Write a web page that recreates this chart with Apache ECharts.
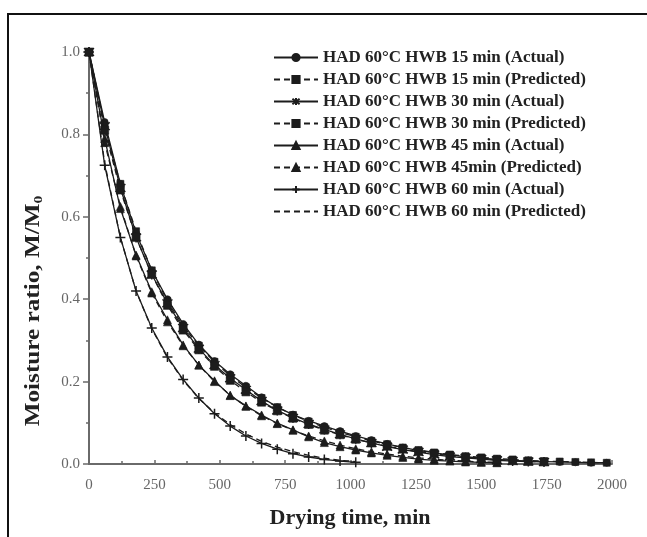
<!DOCTYPE html>
<html>
<head>
<meta charset="utf-8">
<script src="https://cdn.jsdelivr.net/npm/echarts@6/dist/echarts.min.js"></script>
<style>
  html, body { margin: 0; padding: 0; background: #fff; }
  #chart { width: 647px; height: 537px; }
</style>
</head>
<body>
<div id="chart"></div>
<script>
// Drying time samples (min)
const timeMin = [0, 60, 120, 180, 240, 300, 360, 420, 480, 540, 600, 660, 720, 780, 840, 900,
  960, 1020, 1080, 1140, 1200, 1260, 1320, 1380, 1440, 1500, 1560, 1620, 1680, 1740, 1800,
  1860, 1920, 1980];

// Moisture ratio M/M0, hot air drying at 60 °C after hot water blanching
const hwb15Actual = [1.00, 0.83, 0.68, 0.56, 0.47, 0.40, 0.34, 0.29, 0.25, 0.218, 0.190, 0.162,
  0.138, 0.120, 0.105, 0.092, 0.080, 0.068, 0.058, 0.049, 0.040, 0.033, 0.027, 0.022, 0.018,
  0.014, 0.011, 0.009, 0.007, 0.006, 0.005, 0.004, 0.003, 0.003];
const hwb15Predicted = [1.00, 0.82, 0.68, 0.565, 0.47, 0.395, 0.335, 0.287, 0.248, 0.214, 0.186,
  0.160, 0.138, 0.119, 0.103, 0.089, 0.077, 0.066, 0.056, 0.048, 0.040, 0.034, 0.028, 0.023,
  0.019, 0.016, 0.013, 0.011, 0.009, 0.007, 0.006, 0.005, 0.004, 0.003];
const hwb30Actual = [1.00, 0.82, 0.67, 0.55, 0.46, 0.39, 0.33, 0.28, 0.24, 0.208, 0.180, 0.153,
  0.130, 0.112, 0.097, 0.084, 0.072, 0.061, 0.051, 0.042, 0.035, 0.029, 0.023, 0.018, 0.015,
  0.012, 0.009, 0.007, 0.006, 0.005];
const hwb30Predicted = [1.00, 0.81, 0.665, 0.55, 0.46, 0.385, 0.325, 0.277, 0.237, 0.203, 0.175,
  0.150, 0.129, 0.111, 0.096, 0.082, 0.071, 0.060, 0.051, 0.043, 0.036, 0.030, 0.025, 0.020,
  0.016, 0.013, 0.010, 0.008, 0.006, 0.005];
const hwb45Actual = [1.00, 0.79, 0.62, 0.507, 0.418, 0.350, 0.289, 0.240, 0.202, 0.166, 0.141,
  0.119, 0.099, 0.083, 0.066, 0.052, 0.042, 0.034, 0.027, 0.021, 0.016, 0.012, 0.009, 0.007,
  0.005, 0.004, 0.003];
const hwb45Predicted = [1.00, 0.78, 0.625, 0.505, 0.415, 0.345, 0.287, 0.240, 0.200, 0.167,
  0.140, 0.117, 0.098, 0.082, 0.068, 0.056, 0.046, 0.037, 0.030, 0.024, 0.019, 0.015, 0.012,
  0.009, 0.007, 0.005, 0.004];
const hwb60Actual = [1.00, 0.725, 0.55, 0.42, 0.33, 0.26, 0.205, 0.16, 0.122, 0.092, 0.068, 0.050,
  0.036, 0.025, 0.017, 0.011, 0.007, 0.004];
const hwb60Predicted = [1.00, 0.73, 0.55, 0.42, 0.328, 0.258, 0.203, 0.159, 0.124, 0.096, 0.073,
  0.055, 0.041, 0.030, 0.021, 0.014, 0.009, 0.006];

const seriesNames = [
  'HAD 60°C HWB 15 min (Actual)',
  'HAD 60°C HWB 15 min (Predicted)',
  'HAD 60°C HWB 30 min (Actual)',
  'HAD 60°C HWB 30 min (Predicted)',
  'HAD 60°C HWB 45 min (Actual)',
  'HAD 60°C HWB 45min (Predicted)',
  'HAD 60°C HWB 60 min (Actual)',
  'HAD 60°C HWB 60 min (Predicted)'
];

const xTicks = [0, 250, 500, 750, 1000, 1250, 1500, 1750, 2000];
const yTicks = [0.0, 0.2, 0.4, 0.6, 0.8, 1.0];

const ink = '#1c1c1c';
const serif = '"Liberation Serif", "DejaVu Serif", serif';

// stroked marker shapes
const asterisk = 'path://M-1,-1L1,1M-1,1L1,-1M0,-1.3L0,1.3';
const plusMark = 'path://M0,-1L0,1M-0.6,0L0.6,0';
const boxStar = 'path://M-0.6,-0.6H0.6V0.6H-0.6Z';

function pairs(values) {
  return values.map((v, i) => [timeMin[i], v]);
}

function curve(name, values, opts) {
  const dashed = opts.dashed;
  let itemStyle;
  if (opts.symbol === 'none') {
    itemStyle = { color: 'rgba(0,0,0,0)', borderWidth: 0 };
  } else if (opts.stroked) {
    itemStyle = { color: 'rgba(0,0,0,0)', borderColor: ink, borderWidth: 1.5 };
  } else {
    itemStyle = { color: ink, borderColor: ink, borderWidth: 0.6 };
  }
  return {
    name: name,
    type: 'line',
    data: pairs(values),
    symbol: opts.symbol === 'none' ? 'circle' : opts.symbol,
    symbolSize: opts.size || 6,
    showSymbol: opts.symbol !== 'none',
    lineStyle: { color: ink, width: 1.3, type: dashed ? [6, 4] : 'solid' },
    itemStyle: itemStyle,
    emphasis: { disabled: true },
    animation: false,
    z: opts.z || 2
  };
}

const chart = echarts.init(document.getElementById('chart'), null, { renderer: 'canvas' });

chart.setOption({
  backgroundColor: '#fff',
  animation: false,
  grid: { left: 89, right: 35, top: 52, bottom: 73, containLabel: false },
  xAxis: {
    type: 'value',
    min: 0, max: 2000, interval: 250,
    axisLine: { show: true, onZero: false, lineStyle: { color: '#6a6a6a', width: 2 } },
    axisTick: { show: true, inside: true, length: 4, lineStyle: { color: '#6a6a6a', width: 1.5 } },
    minorTick: { show: true, splitNumber: 2, length: 3, lineStyle: { color: '#6a6a6a', width: 1.5 } },
    splitLine: { show: false },
    axisLabel: {
      color: '#666', fontFamily: serif, fontSize: 15, margin: 14,
      formatter: v => xTicks.includes(v) ? String(v) : ''
    }
  },
  yAxis: {
    type: 'value',
    min: 0, max: 1, interval: 0.2,
    axisLine: { show: true, onZero: false, lineStyle: { color: '#6a6a6a', width: 2 } },
    axisTick: { show: true, length: 6, lineStyle: { color: '#6a6a6a', width: 1.5 } },
    minorTick: { show: true, splitNumber: 2, length: 3, lineStyle: { color: '#6a6a6a', width: 1.5 } },
    splitLine: { show: false },
    axisLabel: {
      color: '#666', fontFamily: serif, fontSize: 15, margin: 9,
      formatter: v => {
        const t = yTicks.find(y => Math.abs(y - v) < 1e-6);
        return t === undefined ? '' : t.toFixed(1);
      }
    }
  },
  legend: {
    orient: 'vertical',
    left: 268, top: 44,
    itemWidth: 44, itemHeight: 9, itemGap: 5,
    selectedMode: false,
    textStyle: { color: '#222', fontFamily: serif, fontWeight: 'bold', fontSize: 17, lineHeight: 17 },
    data: seriesNames
  },
  series: [
    curve(seriesNames[0], hwb15Actual, { symbol: 'circle', size: 7, z: 3 }),
    curve(seriesNames[1], hwb15Predicted, { symbol: 'rect', size: 7, dashed: true, z: 3 }),
    curve(seriesNames[2], hwb30Actual, { symbol: asterisk, size: 10, stroked: true, z: 4 }),
    curve(seriesNames[3], hwb30Predicted, { symbol: boxStar, size: 8, dashed: true, z: 4 }),
    curve(seriesNames[4], hwb45Actual, { symbol: 'triangle', size: 8 }),
    curve(seriesNames[5], hwb45Predicted, { symbol: 'triangle', size: 8, dashed: true }),
    curve(seriesNames[6], hwb60Actual, { symbol: plusMark, size: 10, stroked: true }),
    curve(seriesNames[7], hwb60Predicted, { symbol: 'none', dashed: true })
  ],
  graphic: [
    // figure frame
    {
      type: 'polyline', silent: true,
      shape: { points: [[8, 560], [8, 14], [647, 14]] },
      style: { stroke: '#111', lineWidth: 2, fill: null }
    },
    {
      type: 'text', silent: true,
      x: 350, y: 519, scaleX: 1.05,
      style: {
        text: 'Drying time, min', fill: '#222',
        font: 'bold 21px ' + serif, align: 'center', verticalAlign: 'middle'
      }
    },
    {
      type: 'text', silent: true,
      x: 34, y: 311, rotation: Math.PI / 2, scaleX: 1.2,
      style: {
        text: 'Moisture ratio, M/M{s|0}', fill: '#222',
        font: 'bold 21px ' + serif, align: 'center', verticalAlign: 'middle',
        rich: { s: { font: 'bold 13px ' + serif, fill: '#222', padding: [10, 0, 0, 0] } }
      }
    }
  ]
});
</script>
</body>
</html>
